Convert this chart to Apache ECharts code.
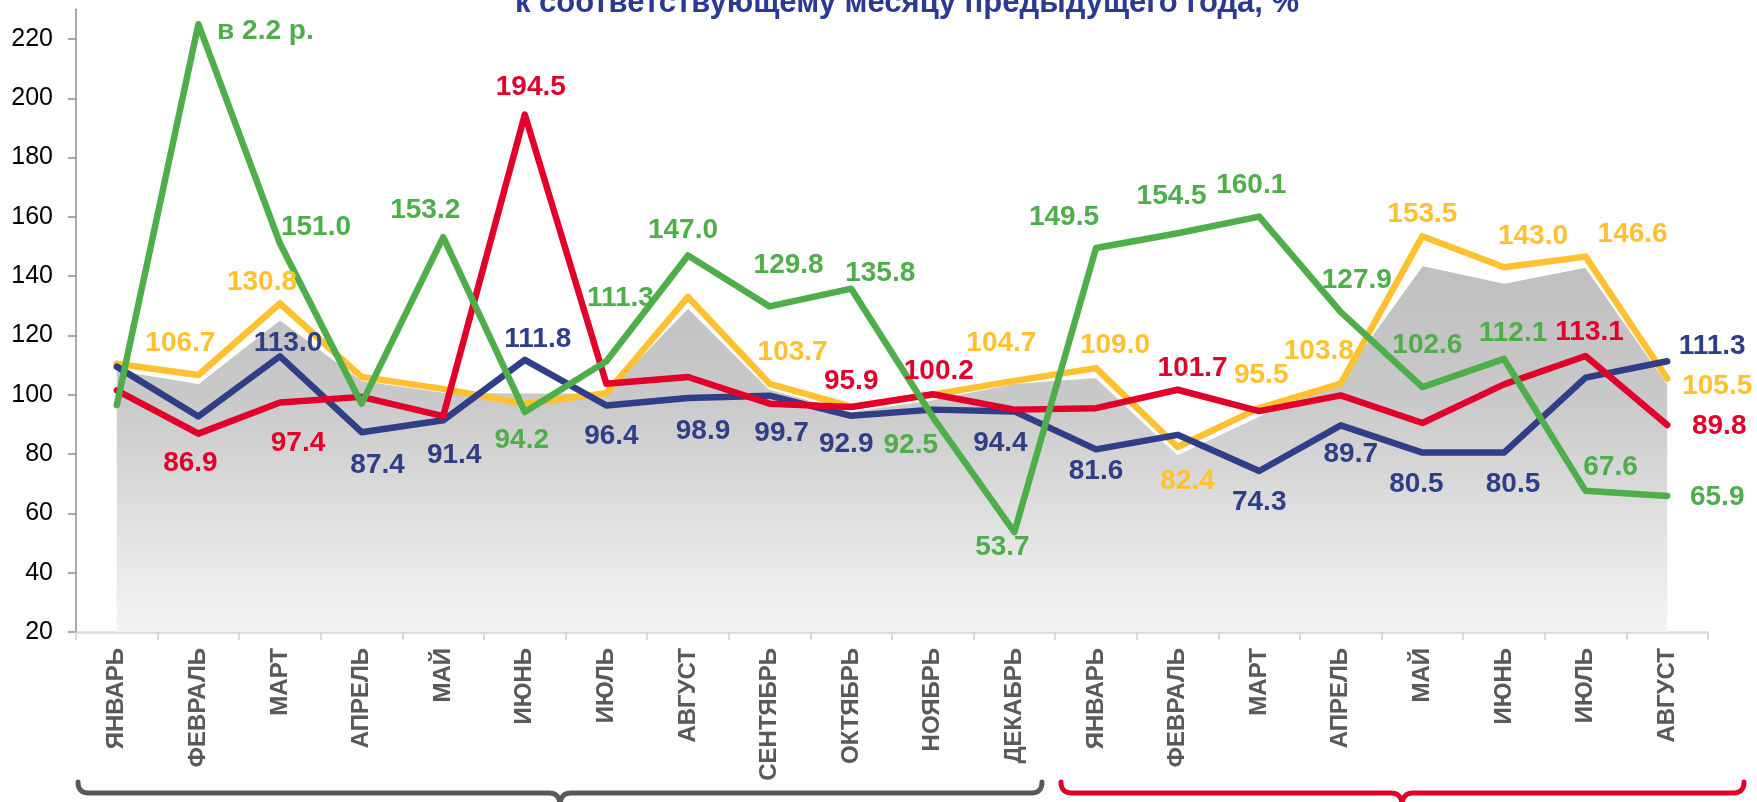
<!DOCTYPE html>
<html>
<head>
<meta charset="utf-8">
<script src="https://cdn.jsdelivr.net/npm/echarts@6/dist/echarts.min.js"></script>
<style>html,body{margin:0;padding:0;background:#fff}#c{width:1757px;height:802px}</style>
</head>
<body>
<div id="c"></div>
<script>
// ---------- data ----------
const months = ['ЯНВАРЬ','ФЕВРАЛЬ','МАРТ','АПРЕЛЬ','МАЙ','ИЮНЬ','ИЮЛЬ','АВГУСТ','СЕНТЯБРЬ','ОКТЯБРЬ','НОЯБРЬ','ДЕКАБРЬ',
                'ЯНВАРЬ','ФЕВРАЛЬ','МАРТ','АПРЕЛЬ','МАЙ','ИЮНЬ','ИЮЛЬ','АВГУСТ'];
const yTicks = [20,40,60,80,100,120,140,160,180,200,220];
const titleText = 'к соответствующему месяцу предыдущего года, %';

const grayVals   = [108.5,104,125.5,105,101,100.8,100.8,129.5,102,94.5,98.5,104,106,80,93,105.5,143.8,137.8,143.2,104];
const yellowVals = [110.5,106.7,130.8,106,102,97,100.5,133,103.7,96,100,104.7,109.0,82.4,95.5,103.8,153.5,143.0,146.6,105.5];
const greenVals  = [96.5,225,151.0,97,153.2,94.2,111.3,147.0,129.8,135.8,92.5,53.7,149.5,154.5,160.1,127.9,102.6,112.1,67.6,65.9];
const blueVals   = [109.5,92.7,113.0,87.4,91.4,111.8,96.4,98.9,99.7,92.9,95,94.4,81.6,86.5,74.3,89.7,80.5,80.5,105.8,111.3];
const redVals    = [101.5,86.9,97.4,99.3,92.8,194.5,103.7,106,97,95.9,100.2,95,95.5,101.7,94.5,99.8,90.5,103.5,113.1,89.8];
const greenTexts = {1: 'в 2.2 р.'};

// ---------- label placement (style, offsets in px from the point) ----------
const greenOff  = [null,[67,7],[36,-16],null,[-18,-27],[-3,28],[14,-63],[-5,-25],[19,-41],[29,-15],[-22,28],[-12,15],
                   [-32,-31],[-6,-37],[-8,-31],[16,-32],[5,-42],[9,-26],[25,-24],[50,1]];
const yellowOff = [null,[-18,-32],[-18,-21],null,null,null,null,null,[23,-32],null,null,[-13,-38],
                   [19,-23],[10,34],[2,-33],[-22,-32],[0,-22],[29,-31],[47,-22],[50,8]];
const redOff    = [null,[-8,30],[18,41],null,null,[6,-27],null,null,null,[0,-26],[6,-23],null,
                   null,[15,-21],null,null,null,null,[4,-24],[52,1]];
const blueOff   = [null,null,[8,-13],[16,33],[11,35],[13,-21],[5,31],[15,33],[12,38],[-5,28],null,[-14,32],
                   [0,22],null,[0,31],[10,29],[-6,32],[9,32],null,[45,-15]];

const FF = '"Liberation Sans", Arial, sans-serif';
const C = {green:'#4EAE4A', yellow:'#FFC12F', blue:'#2F3E87', red:'#E2002B', title:'#2B3990'};

function lineSeries(vals, color, z) {
  return {
    type:'line', data: vals, z: z, symbol:'none', showSymbol:false, silent:true,
    lineStyle:{color:color, width:6.5, cap:'round', join:'round'},
    emphasis:{disabled:true}
  };
}
function labelSeries(vals, color, offs, texts) {
  return {
    type:'scatter', z: 20, silent:true, symbolSize:1,
    itemStyle:{color:'rgba(0,0,0,0)', opacity:1},
    label:{show:true, position:'inside', color:color, opacity:1, fontSize:28, fontWeight:'bold', fontFamily:FF},
    data: vals.map(function(v,i){
      const o = offs[i];
      if (!o) return {value:v, label:{show:false}};
      return {value:v, label:{show:true, offset:o, formatter:(texts && texts[i]) || v.toFixed(1)}};
    }),
    emphasis:{disabled:true}
  };
}
function bracePoints(x0, xm, x1) {
  const yTop = 782, yLine = 793, yTip = 806, r = 11, pts = [];
  function quad(p0,p1,p2){ for (let k=0;k<=10;k++){const t=k/10,a=(1-t)*(1-t),b=2*(1-t)*t,c=t*t;
      pts.push([a*p0[0]+b*p1[0]+c*p2[0], a*p0[1]+b*p1[1]+c*p2[1]]);} }
  quad([x0,yTop],[x0,yLine],[x0+r,yLine]);
  quad([xm-r,yLine],[xm,yLine],[xm,yTip]);
  quad([xm,yTip],[xm,yLine],[xm+r,yLine]);
  quad([x1-r,yLine],[x1,yLine],[x1,yTop]);
  return pts;
}

const chart = echarts.init(document.getElementById('c'));
chart.setOption({
  animation:false,
  backgroundColor:'#fff',
  textStyle:{fontFamily:FF},
  grid:{left:76, right:49, top:9.35, bottom:170, containLabel:false},
  xAxis:{
    type:'category', data:months, boundaryGap:true,
    axisLine:{lineStyle:{color:'#d9d9d9', width:2.5}},
    axisTick:{show:true, length:8, lineStyle:{color:'#d9d9d9', width:2}},
    axisLabel:{interval:0, rotate:90, margin:16, color:'#595959', fontSize:24, fontWeight:'bold', fontFamily:FF}
  },
  yAxis:{
    type:'value', min:20, max:230, interval:10,
    splitLine:{show:false},
    axisLine:{show:true, lineStyle:{color:'#8c8c8c', width:1.5}},
    axisTick:{show:true, length:8, customValues:yTicks, lineStyle:{color:'#8c8c8c', width:1.5}},
    axisLabel:{customValues:yTicks, margin:23, color:'#000', fontSize:25, fontFamily:FF}
  },
  graphic:[
    {type:'text', x:907, y:19, silent:true,
     style:{text:titleText, fill:C.title, font:'bold 31px ' + FF, align:'center', verticalAlign:'bottom'}},
    {type:'polyline', silent:true, shape:{points:bracePoints(78,560,1042)},
     style:{fill:null, stroke:'#595959', lineWidth:5, lineJoin:'round', lineCap:'round'}},
    {type:'polyline', silent:true, shape:{points:bracePoints(1061,1402,1744)},
     style:{fill:null, stroke:C.red, lineWidth:5, lineJoin:'round', lineCap:'round'}}
  ],
  series:[
    {
      type:'line', data:grayVals, z:1, symbol:'none', silent:true,
      lineStyle:{color:'#ffffff', width:2},
      areaStyle:{opacity:1, color:new echarts.graphic.LinearGradient(0,0,0,1,[
        {offset:0, color:'#bfbfbf'},{offset:0.36, color:'#c9c9c9'},{offset:0.64, color:'#dcdcdc'},
        {offset:0.9, color:'#eeeeee'},{offset:1, color:'#f3f3f3'}])},
      emphasis:{disabled:true}
    },
    lineSeries(yellowVals, C.yellow, 2),
    lineSeries(blueVals, C.blue, 3),
    lineSeries(redVals, C.red, 4),
    lineSeries(greenVals, C.green, 5),
    labelSeries(yellowVals, C.yellow, yellowOff),
    labelSeries(blueVals, C.blue, blueOff),
    labelSeries(redVals, C.red, redOff),
    labelSeries(greenVals, C.green, greenOff, greenTexts)
  ]
});
</script>
</body>
</html>
